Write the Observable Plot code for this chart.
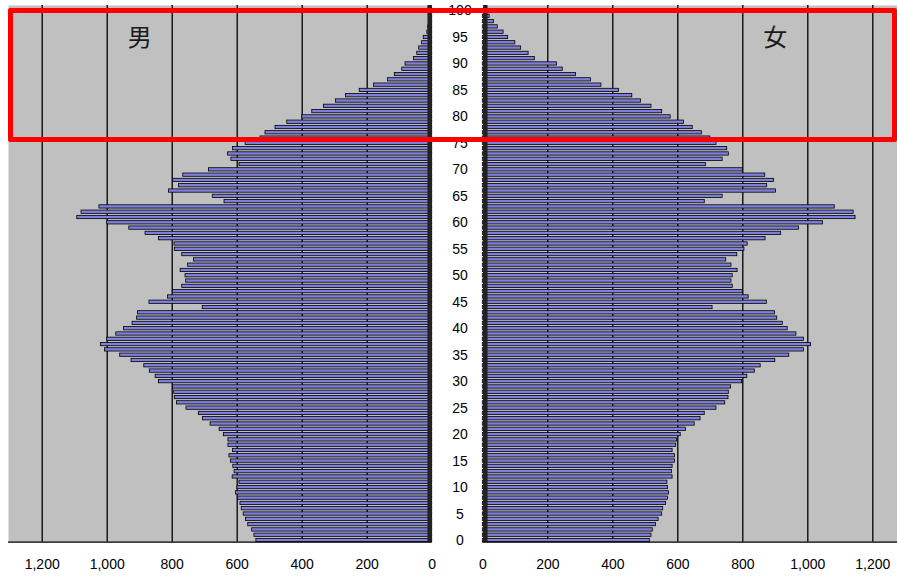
<!DOCTYPE html>
<html>
<head>
<meta charset="utf-8">
<script src="https://cdn.jsdelivr.net/npm/d3@7"></script>
<script src="https://cdn.jsdelivr.net/npm/@observablehq/plot@0.6"></script>
<style>
  html, body { margin: 0; padding: 0; background: #fff; }
  #chart { position: relative; width: 897px; height: 576px; overflow: hidden; }
  #male { position: absolute; left: 0; top: 0; }
  #female { position: absolute; left: 432px; top: 0; }
  #callout {
    position: absolute; left: 8px; top: 8px; width: 889px; height: 134px;
    box-sizing: border-box; border: 5px solid #ff0000; border-radius: 2px;
    pointer-events: none;
  }
</style>
</head>
<body>
<div id="chart">
  <div id="male"></div>
  <div id="female"></div>
  <div id="callout"></div>
</div>
<script>
// Single-year ages 0–100
const ages = d3.range(0, 101);

// Population by single year of age (ages 0..100)
const male = [
  541, 547, 554, 566, 573, 580, 586, 590, 598, 604,
  599, 593, 614, 608, 612, 619, 624, 613, 627, 627,
  641, 654, 682, 705, 718, 756, 785, 792, 794, 798,
  841, 851, 869, 886, 925, 960, 1007, 1019, 1000, 972,
  948, 922, 908, 905, 706, 870, 813, 798, 769, 757,
  759, 774, 751, 733, 769, 792, 793, 841, 882, 932,
  1000, 1092, 1079, 1024, 639, 675, 810, 779, 797, 766,
  687, 593, 618, 628, 613, 574, 528, 513, 482, 446,
  400, 369, 333, 296, 265, 223, 179, 136, 115, 92,
  82, 56, 46, 40, 31, 26, 15, 12, 6, 4,
  2
];
const female = [
  514, 519, 523, 533, 541, 552, 555, 564, 570, 573,
  570, 568, 584, 582, 584, 591, 591, 584, 595, 598,
  609, 625, 652, 670, 683, 719, 746, 756, 757, 764,
  798, 814, 837, 855, 900, 943, 988, 1010, 988, 965,
  938, 923, 906, 899, 707, 874, 818, 800, 769, 765,
  769, 784, 765, 749, 783, 805, 815, 870, 918, 973,
  1047, 1147, 1141, 1083, 683, 738, 902, 875, 896, 869,
  800, 687, 738, 757, 752, 719, 700, 674, 646, 619,
  578, 552, 519, 487, 460, 419, 365, 333, 287, 246,
  228, 160, 141, 118, 100, 78, 64, 46, 34, 21,
  5
];

const xTicks = [0, 200, 400, 600, 800, 1000, 1200];
const ageTicks = [0, 5, 10, 15, 20, 25, 30, 35, 40, 45, 50, 55, 60, 65, 70, 75, 80, 85, 90, 95, 100];
const sexLabels = ["男", "女"];

const rows = ages.map((age, i) => ({age, male: male[i], female: female[i]}));

const HEIGHT = 576;
const Y_DOMAIN = [-0.32, 101.04];
const HALF = 0.31;            // half bar thickness, in years
const BAR_FILL = "#7e7ede";
const PLOT_BG = "#c0c0c0";
const numFont = "'Liberation Sans', Arial, sans-serif";
const cjkFont = "'Noto Sans CJK JP', sans-serif";

function panel({key, label, width, marginLeft, marginRight, xDomain, reverse, showAges, stripDx}) {
  const marks = [
    Plot.frame({fill: PLOT_BG}),
    Plot.gridX(xTicks.filter(d => d > 0), {stroke: "#000", strokeOpacity: 1, strokeWidth: 1.3}),
    Plot.rectX(rows, {
      x1: 0, x2: key,
      y1: d => d.age - HALF, y2: d => d.age + HALF,
      fill: BAR_FILL, stroke: "#000", strokeWidth: 0.8
    }),
    // dark band where the bars meet the zero line
    Plot.ruleX([0], {stroke: "#222", strokeWidth: 4.5, dx: stripDx}),
    Plot.ruleY([Y_DOMAIN[0]], {stroke: "#000", strokeWidth: 1.3}),
    Plot.axisX(xTicks, {
      anchor: "bottom", tickSize: 0, tickPadding: 17, label: null,
      tickFormat: d3.format(","), fontSize: 14, fill: "#000"
    }),
    Plot.text([label], {
      x: 900, y: 94.8, text: d => d,
      fontSize: 24, fontFamily: cjkFont, fill: "#1a1a1a"
    })
  ];
  if (showAges) {
    marks.push(Plot.axisY(ageTicks, {
      anchor: "left", tickSize: 0, tickPadding: 22.8, label: null,
      textAnchor: "middle", fontSize: 14, fill: "#000"
    }));
  }
  return Plot.plot({
    width, height: HEIGHT,
    marginTop: 5, marginBottom: 34.3,
    marginLeft, marginRight,
    style: {background: "transparent", fontFamily: numFont, color: "#000", overflow: "visible"},
    x: {domain: xDomain, reverse, axis: null, label: null},
    y: {domain: Y_DOMAIN, axis: null, label: null},
    marks
  });
}

document.getElementById("male").append(panel({
  key: "male", label: sexLabels[0],
  width: 432, marginLeft: 8, marginRight: 0.3,
  xDomain: [0, 1303.7], reverse: true, showAges: false, stripDx: -2.5
}));

document.getElementById("female").append(panel({
  key: "female", label: sexLabels[1],
  width: 465, marginLeft: 50.3, marginRight: 0,
  xDomain: [0, 1276], reverse: false, showAges: true, stripDx: 2.5
}));
</script>
</body>
</html>
